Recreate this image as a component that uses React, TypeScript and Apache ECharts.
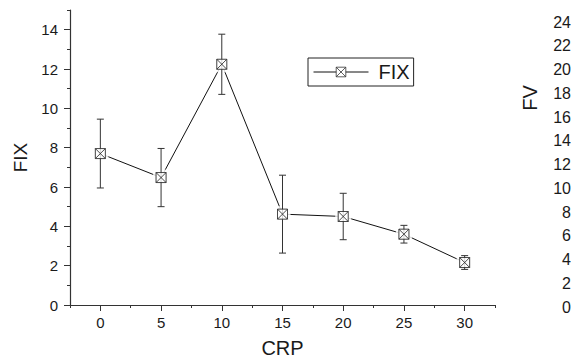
import React, { useEffect, useRef } from "react";
import * as echarts from "echarts";

const crp = [0, 5, 10, 15, 20, 25, 30];
const fix = [7.7, 6.48, 12.24, 4.62, 4.5, 3.6, 2.16];
const fixErr = [1.75, 1.48, 1.53, 1.98, 1.18, 0.45, 0.35];
const xMajorTicks = [0, 5, 10, 15, 20, 25, 30];
const xMinorTicks = [-2.5, 2.5, 7.5, 12.5, 17.5, 22.5, 27.5, 32.5];
const yMajorTicks = [0, 2, 4, 6, 8, 10, 12, 14];
const yMinorTicks = [1, 3, 5, 7, 9, 11, 13, 15];
const fvTicks = [0, 2, 4, 6, 8, 10, 12, 14, 16, 18, 20, 22, 24];

const FONT = "Liberation Sans, Arial, sans-serif";
const AXIS = "#333";
const TEXT = "#1a1a1a";
const MARK = "path://M0,0H10V10H0Z M0,0L10,10 M10,0L0,10";

export default function App() {
  const ref = useRef<HTMLDivElement>(null);
  useEffect(() => {
    if (!ref.current) return;
    const chart = echarts.init(ref.current, null, { renderer: "svg" });
    const pts = crp.map((c, i) => [c, fix[i]]);
    chart.setOption({
      animation: false,
      textStyle: { fontFamily: FONT },
      grid: [
        { left: 70, top: 10, right: 76, bottom: 55 },
        { left: 577, top: 22, width: 100, bottom: 56 },
      ],
      legend: {
        data: [{ name: "FIX" }],
        left: 308,
        top: 58,
        padding: [4, 4, 4, 5],
        borderColor: "#222",
        borderWidth: 1,
        itemWidth: 55,
        itemHeight: 12,
        lineStyle: { width: 1, color: "#111" },
        itemStyle: { color: "#fff", borderColor: "#333", borderWidth: 0.8 },
        textStyle: { fontSize: 20, color: TEXT, fontFamily: FONT, padding: [0, 0, 0, 5] },
      },
      xAxis: [
        {
          gridIndex: 0,
          type: "value",
          position: "bottom",
          min: -2.5,
          max: 32.5,
          axisLine: { show: true, onZero: false, lineStyle: { color: AXIS, width: 1.2 } },
          axisTick: { show: true, customValues: xMajorTicks, length: 6, lineStyle: { color: AXIS } },
          axisLabel: { customValues: xMajorTicks, fontSize: 15, color: TEXT, margin: 10, fontFamily: FONT },
          splitLine: { show: false },
          name: "CRP",
          nameLocation: "middle",
          nameGap: 33,
          nameTextStyle: { fontSize: 20, color: TEXT, fontFamily: FONT },
        },
        {
          gridIndex: 0,
          type: "value",
          position: "bottom",
          min: -2.5,
          max: 32.5,
          axisLine: { show: false, onZero: false },
          axisTick: { show: true, customValues: xMinorTicks, length: 3, lineStyle: { color: AXIS } },
          axisLabel: { show: false },
          splitLine: { show: false },
        },
        { gridIndex: 1, type: "value", show: false, min: 0, max: 10 },
      ],
      yAxis: [
        {
          gridIndex: 0,
          type: "value",
          position: "left",
          min: 0,
          max: 15,
          axisLine: { show: true, onZero: false, lineStyle: { color: AXIS, width: 1.2 } },
          axisTick: { show: true, customValues: yMajorTicks, length: 6, lineStyle: { color: AXIS } },
          axisLabel: { customValues: yMajorTicks, fontSize: 15, color: TEXT, margin: 12, fontFamily: FONT },
          splitLine: { show: false },
          name: "FIX",
          nameLocation: "middle",
          nameGap: 34,
          nameTextStyle: { fontSize: 19, color: TEXT, fontFamily: FONT },
        },
        {
          gridIndex: 0,
          type: "value",
          position: "left",
          min: 0,
          max: 15,
          axisLine: { show: false, onZero: false },
          axisTick: { show: true, customValues: yMinorTicks, length: 3, lineStyle: { color: AXIS } },
          axisLabel: { show: false },
          splitLine: { show: false },
        },
        {
          gridIndex: 1,
          type: "value",
          position: "left",
          min: 0,
          max: 24,
          axisLine: { show: false, onZero: false },
          axisTick: { show: false },
          axisLabel: { customValues: fvTicks, fontSize: 16, color: TEXT, margin: 6, fontFamily: FONT },
          splitLine: { show: false },
        },
      ],
      graphic: [
        {
          type: "text",
          x: 530,
          y: 98,
          rotation: Math.PI / 2,
          style: {
            text: "FV",
            fontSize: 20,
            fontFamily: FONT,
            fill: TEXT,
            align: "center",
            verticalAlign: "middle",
          },
        },
      ],
      series: [
        {
          name: "FIX",
          type: "line",
          xAxisIndex: 0,
          yAxisIndex: 0,
          data: pts,
          z: 2,
          symbol: MARK,
          symbolSize: 10,
          itemStyle: { color: "#fff", borderColor: "#222", borderWidth: 1 },
          lineStyle: { color: "#111", width: 1 },
        },
        {
          name: "halo",
          type: "scatter",
          xAxisIndex: 0,
          yAxisIndex: 0,
          data: pts,
          z: 3,
          symbol: "rect",
          symbolSize: 16,
          itemStyle: { color: "#fff" },
          silent: true,
        },
        {
          name: "err",
          type: "custom",
          xAxisIndex: 0,
          yAxisIndex: 0,
          z: 4,
          data: crp.map((c, i) => [c, fix[i], fixErr[i]]),
          encode: { x: 0, y: 1 },
          renderItem: (params: any, api: any) => {
            const x = api.value(0);
            const y = api.value(1);
            const e = api.value(2);
            const t = api.coord([x, y + e]);
            const b = api.coord([x, y - e]);
            const w = 3.5;
            const st = { stroke: "#333", lineWidth: 1 };
            return {
              type: "group",
              children: [
                { type: "line", shape: { x1: t[0], y1: t[1], x2: b[0], y2: b[1] }, style: st },
                { type: "line", shape: { x1: t[0] - w, y1: t[1], x2: t[0] + w, y2: t[1] }, style: st },
                { type: "line", shape: { x1: b[0] - w, y1: b[1], x2: b[0] + w, y2: b[1] }, style: st },
              ],
            };
          },
        },
        {
          name: "marks",
          type: "scatter",
          xAxisIndex: 0,
          yAxisIndex: 0,
          data: pts,
          z: 5,
          symbol: MARK,
          symbolSize: 10,
          itemStyle: { color: "#fff", borderColor: "#222", borderWidth: 1 },
        },
      ],
    });
    return () => chart.dispose();
  }, []);
  return (
    <div
      ref={ref}
      style={{ position: "absolute", left: 0, top: 0, width: 571, height: 363, background: "#fff" }}
    />
  );
}
